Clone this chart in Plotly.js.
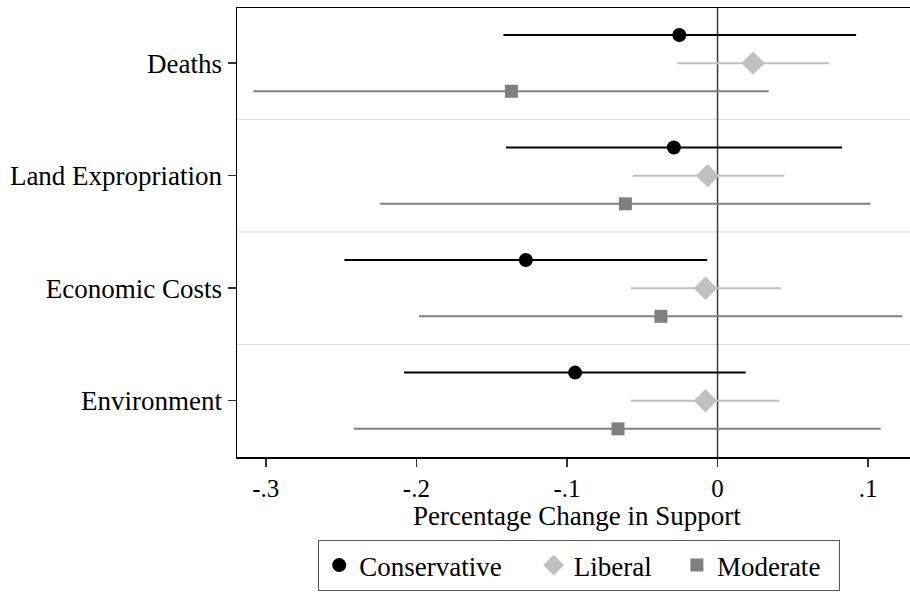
<!DOCTYPE html>
<html>
<head>
<meta charset="utf-8">
<script src="https://cdn.plot.ly/plotly-3.0.1.min.js"></script>
<style>html,body{margin:0;padding:0;background:#fff;}#chart{width:910px;height:592px;}</style>
</head>
<body>
<div id="chart"></div>
<script>
// Categories (top to bottom)
const categories = ["Deaths", "Land Expropriation", "Economic Costs", "Environment"];
const catPos = [4, 3, 2, 1];

// Conservative
const consEst = [-0.0254, -0.0290, -0.1273, -0.0946];
const consLo  = [-0.1422, -0.1405, -0.2478, -0.2082];
const consHi  = [ 0.0920,  0.0827, -0.0069,  0.0187];

// Liberal
const libEst = [ 0.0236, -0.0066, -0.0080, -0.0080];
const libLo  = [-0.0268, -0.0563, -0.0575, -0.0575];
const libHi  = [ 0.0740,  0.0443,  0.0423,  0.0411];

// Moderate
const modEst = [-0.1369, -0.0612, -0.0376, -0.0661];
const modLo  = [-0.3082, -0.2240, -0.1983, -0.2415];
const modHi  = [ 0.0340,  0.1016,  0.1228,  0.1084];

const xTickVals = [-0.3, -0.2, -0.1, 0, 0.1];
const xTickText = ["-.3", "-.2", "-.1", "0", ".1"];
const xTitle = "Percentage Change in Support";

const FONT = "Liberation Serif, Times New Roman, serif";
const FS = 27;
const NB = "\u00a0";

function makeTrace(name, est, lo, hi, offset, color, symbol, size) {
  return {
    type: "scatter",
    mode: "markers",
    name: name,
    x: est,
    y: catPos.map(p => p + offset),
    marker: {color: color, symbol: symbol, size: size, line: {width: 0}},
    error_x: {
      type: "data", symmetric: false,
      array: hi.map((h, i) => h - est[i]),
      arrayminus: lo.map((l, i) => est[i] - l),
      color: color, thickness: 2, width: 0
    },
    hoverinfo: "x+name"
  };
}

const traces = [
  makeTrace("Conservative" + NB.repeat(4), consEst, consLo, consHi, 0.25, "#000000", "circle", 14),
  makeTrace("Liberal" + NB.repeat(3), libEst, libLo, libHi, 0, "#c0c0c0", "diamond", 18),
  makeTrace("Moderate" + NB.repeat(2), modEst, modLo, modHi, -0.25, "#808080", "square", 13)
];

const shapes = [];
[3.5, 2.5, 1.5].forEach(v => shapes.push({
  type: "line", xref: "paper", x0: 0, x1: 1, yref: "y", y0: v, y1: v,
  line: {color: "#dcdcdc", width: 1}, layer: "below"
}));
shapes.push({
  type: "line", xref: "x", x0: 0, x1: 0, yref: "paper", y0: 0, y1: 1,
  line: {color: "#3a3a3a", width: 1.5}, layer: "below"
});

const layout = {
  width: 910, height: 592,
  margin: {l: 237, r: 0, t: 8, b: 135},
  paper_bgcolor: "#ffffff", plot_bgcolor: "#ffffff",
  font: {family: FONT, size: FS, color: "#000000"},
  showlegend: true,
  legend: {
    orientation: "h", x: 0.5085, xanchor: "center", y: -0.185, yanchor: "top",
    bordercolor: "#555555", borderwidth: 1, font: {family: FONT, size: FS},
    itemwidth: 30, tracegroupgap: 0
  },
  xaxis: {
    range: [-0.3191, 0.1278],
    tickvals: xTickVals, ticktext: xTickText,
    ticks: "outside", ticklen: 8, tickwidth: 1.5, tickcolor: "#333333",
    showgrid: false, zeroline: false,
    showline: true, linecolor: "#000000", linewidth: 1.5, mirror: true,
    tickfont: {family: FONT, size: 25}
  },
  yaxis: {
    range: [0.5, 4.49],
    tickvals: catPos, ticktext: categories,
    ticks: "outside", ticklen: 8, tickwidth: 1.5, tickcolor: "#333333",
    showgrid: false, zeroline: false,
    showline: true, linecolor: "#000000", linewidth: 1.5,
    tickfont: {family: FONT, size: FS}
  },
  annotations: [{
    text: xTitle, xref: "paper", yref: "paper", x: 0.505, y: 0,
    xanchor: "center", yanchor: "middle", yshift: -59, showarrow: false,
    font: {family: FONT, size: FS, color: "#000000"}
  }],
  shapes: shapes
};

Plotly.newPlot("chart", traces, layout, {displayModeBar: false, staticPlot: true});
</script>
</body>
</html>
